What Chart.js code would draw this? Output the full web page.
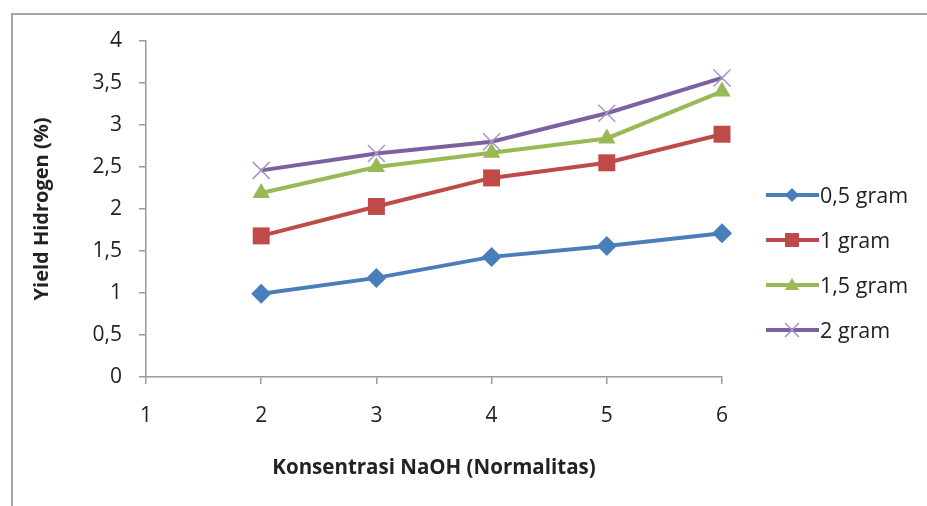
<!DOCTYPE html>
<html>
<head>
<meta charset="utf-8">
<script src="https://cdn.jsdelivr.net/npm/chart.js@4/dist/chart.umd.min.js"></script>
<style>
  body { margin: 0; background: #fff; overflow: hidden; }
  #frame {
    position: absolute; left: 11px; top: 13px; width: 1000px; height: 600px;
    border-left: 2px solid #a6a6a6; border-top: 2px solid #a6a6a6;
  }
  #wrap { position: absolute; left: 0; top: 0; width: 927px; height: 506px; }
  #legend {
    position: absolute; left: 766px; top: 172px;
    font-family: 'Open Sans', sans-serif; font-size: 21.5px; color: #222;
  }
  .item { height: 45px; display: flex; align-items: center; }
  .item svg { margin-right: 1px; }
</style>
</head>
<body>
<div id="frame"></div>
<div id="wrap"><canvas id="yieldChart" width="927" height="506"></canvas></div>
<div id="legend"></div>

<script>
// konsentrasi NaOH (N)
const categories = ['1', '2', '3', '4', '5', '6'];

// yield hidrogen (%) per massa
const gram05 = [null, 0.99, 1.18, 1.43, 1.56, 1.71];
const gram1 = [null, 1.68, 2.03, 2.37, 2.55, 2.89];
const gram15 = [null, 2.19, 2.50, 2.67, 2.84, 3.40];
const gram2 = [null, 2.46, 2.66, 2.80, 3.14, 3.56];

const seriesNames = ['0,5 gram', '1 gram', '1,5 gram', '2 gram'];

const colors = ['#4a7ebb', '#be4b48', '#98b954', '#7d60a0'];
const markers = ['rectRot', 'rect', 'triangle', 'crossRot'];
const markerSize = [10, 12, 10, 12];

Chart.defaults.font.family = "'Open Sans', sans-serif";
Chart.defaults.color = '#222';

function makeSet(i, data) {
    return {
        label: seriesNames[i],
        data: data,
        borderColor: colors[i],
        backgroundColor: colors[i],
        borderWidth: 4,
        pointStyle: markers[i],
        pointRadius: markerSize[i],
        pointBackgroundColor: colors[i],
        pointBorderColor: i == 3 ? '#a496c8' : colors[i],
        pointBorderWidth: i == 3 ? 1.5 : 0,
        tension: 0,
        order: 4 - i
    };
}

const axisGray = '#9a9a9a';

const config = {
    type: 'line',
    data: {
        labels: categories,
        datasets: [
            makeSet(0, gram05),
            makeSet(1, gram1),
            makeSet(2, gram15),
            makeSet(3, gram2)
        ]
    },
    options: {
        responsive: false,
        animation: false,
        layout: {
            padding: { left: 0, right: 205, top: 41, bottom: 0 }
        },
        plugins: {
            legend: { display: false },
            tooltip: { enabled: false }
        },
        scales: {
            x: {
                offset: false,
                grid: { drawOnChartArea: false, drawTicks: true, tickLength: 7, color: axisGray, lineWidth: 1.5 },
                border: { display: true, color: axisGray, width: 1.5 },
                ticks: { font: { size: 21 }, padding: 19, maxRotation: 0 },
                title: {
                    display: true,
                    text: 'Konsentrasi NaOH (Normalitas)',
                    font: { size: 20.5, weight: 'bold' },
                    padding: { top: 0, bottom: 26 }
                },
                afterFit: function (scale) { scale.height = 129; }
            },
            y: {
                min: 0,
                max: 4,
                grid: { drawOnChartArea: false, drawTicks: true, tickLength: 7, color: axisGray, lineWidth: 1.5 },
                border: { display: true, color: axisGray, width: 1.5 },
                ticks: {
                    stepSize: 0.5,
                    font: { size: 21 },
                    padding: 17,
                    callback: function (v) { return String(v).replace('.', ','); }
                },
                title: {
                    display: true,
                    text: 'Yield Hidrogen (%)',
                    font: { size: 20, weight: 'bold' },
                    padding: { top: 30, bottom: 0 }
                },
                afterFit: function (scale) { scale.width = 146; }
            }
        }
    }
};

new Chart(document.getElementById('yieldChart'), config);

// legend: line with marker, like the spreadsheet
function markerSvg(i) {
    const c = colors[i];
    const cx = 26, cy = 10;
    if (i == 0) return `<polygon points="${cx},${cy - 7} ${cx + 7},${cy} ${cx},${cy + 7} ${cx - 7},${cy}" fill="${c}"/>`;
    if (i == 1) return `<rect x="${cx - 7}" y="${cy - 7}" width="14" height="14" fill="${c}"/>`;
    if (i == 2) return `<polygon points="${cx},${cy - 7} ${cx + 7},${cy + 5} ${cx - 7},${cy + 5}" fill="${c}"/>`;
    return `<path d="M${cx - 7} ${cy - 7} L${cx + 7} ${cy + 7} M${cx + 7} ${cy - 7} L${cx - 7} ${cy + 7}" stroke="#a496c8" stroke-width="1.5"/>`;
}

const legendEl = document.getElementById('legend');
seriesNames.forEach(function (name, i) {
    const row = document.createElement('div');
    row.className = 'item';
    row.innerHTML = `<svg width="53" height="20"><line x1="0" y1="10" x2="53" y2="10" stroke="${colors[i]}" stroke-width="4"/>${markerSvg(i)}</svg><span>${name}</span>`;
    legendEl.appendChild(row);
});
</script>
</body>
</html>
